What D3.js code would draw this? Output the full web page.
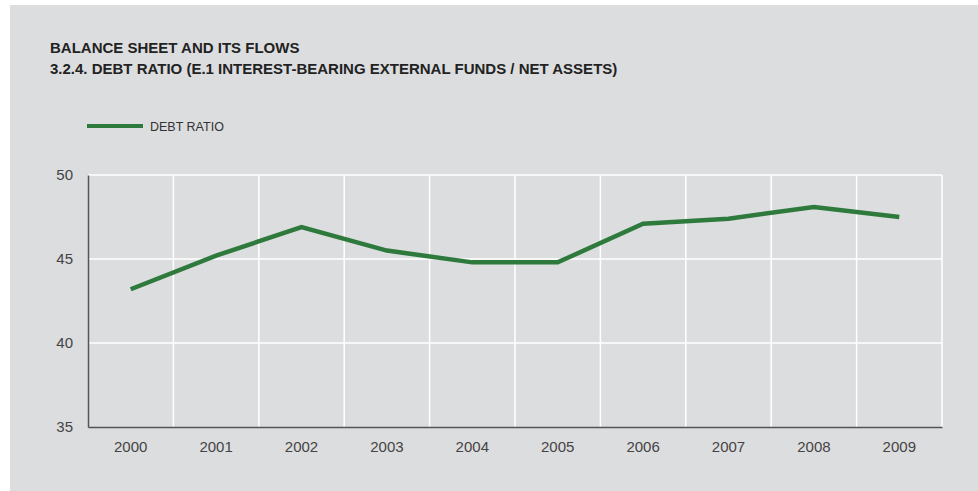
<!DOCTYPE html>
<html><head><meta charset="utf-8">
<script src="https://cdn.jsdelivr.net/npm/d3@7"></script>
<style>
html,body{margin:0;padding:0;background:#fff;}
svg{display:block;font-family:"Liberation Sans",Arial,sans-serif;}
</style></head>
<body>
<svg id="chart" width="978" height="491"></svg>
<script>
const years = ["2000","2001","2002","2003","2004","2005","2006","2007","2008","2009"];
const debtRatio = [43.2, 45.2, 46.9, 45.5, 44.8, 44.8, 47.1, 47.4, 48.1, 47.5];
const yTicks = [35, 40, 45, 50];
const titleLines = ["BALANCE SHEET AND ITS FLOWS", "3.2.4. DEBT RATIO (E.1 INTEREST-BEARING EXTERNAL FUNDS / NET ASSETS)"];
const seriesName = "DEBT RATIO";

(function(){
const svg = d3.select("#chart");
svg.append("rect").attr("x",10).attr("y",5).attr("width",968).attr("height",486).attr("fill","#dcdddf");

svg.selectAll("text.title").data(titleLines).enter().append("text")
  .attr("class","title").attr("x",50).attr("y",(d,i)=>53+i*21)
  .attr("font-size",15).attr("font-weight","bold").attr("fill","#222").text(d=>d);

const mL=88, mR=942, mT=175, mB=427;
const x = d3.scaleBand().domain(years).range([mL,mR]);
const y = d3.scaleLinear().domain([35,50]).range([mB,mT]);

// legend
svg.append("line").attr("x1",87).attr("x2",143).attr("y1",126).attr("y2",126)
  .attr("stroke","#2e7a3c").attr("stroke-width",4);
svg.append("text").attr("x",150).attr("y",130.5).attr("font-size",12.5).attr("fill","#333").text(seriesName);

// gridlines
const g = svg.append("g");
g.selectAll("line.h").data(yTicks.filter(t=>t>35)).enter().append("line")
  .attr("x1",mL).attr("x2",mR).attr("y1",d=>y(d)).attr("y2",d=>y(d))
  .attr("stroke","#fff").attr("stroke-width",1.5);
g.selectAll("line.v").data(years.slice(1).map(d=>x(d)).concat([mR])).enter().append("line")
  .attr("x1",d=>d).attr("x2",d=>d).attr("y1",mT).attr("y2",mB)
  .attr("stroke","#fff").attr("stroke-width",1.5);

// axes
const yAxis = svg.append("g").attr("transform",`translate(${mL},0)`)
  .call(d3.axisLeft(y).tickValues(yTicks).tickSize(0).tickPadding(15));
yAxis.select(".domain").attr("stroke","#555").attr("stroke-width",1.5);
yAxis.selectAll("text").attr("font-size",15).attr("fill","#444").attr("font-family","Liberation Sans, Arial, sans-serif");

const xAxis = svg.append("g").attr("transform",`translate(0,${mB})`)
  .call(d3.axisBottom(x).tickSize(0).tickPadding(14));
xAxis.select(".domain").attr("stroke","#555").attr("stroke-width",1.5);
xAxis.selectAll("text").attr("font-size",15).attr("fill","#444").attr("font-family","Liberation Sans, Arial, sans-serif");

// line
const line = d3.line().x((d,i)=>x(years[i])+x.bandwidth()/2).y(d=>y(d));
svg.append("path").datum(debtRatio).attr("d",line).attr("fill","none")
  .attr("stroke","#2e7a3c").attr("stroke-width",4.5).attr("stroke-linejoin","miter");
})();
</script>
</body></html>
